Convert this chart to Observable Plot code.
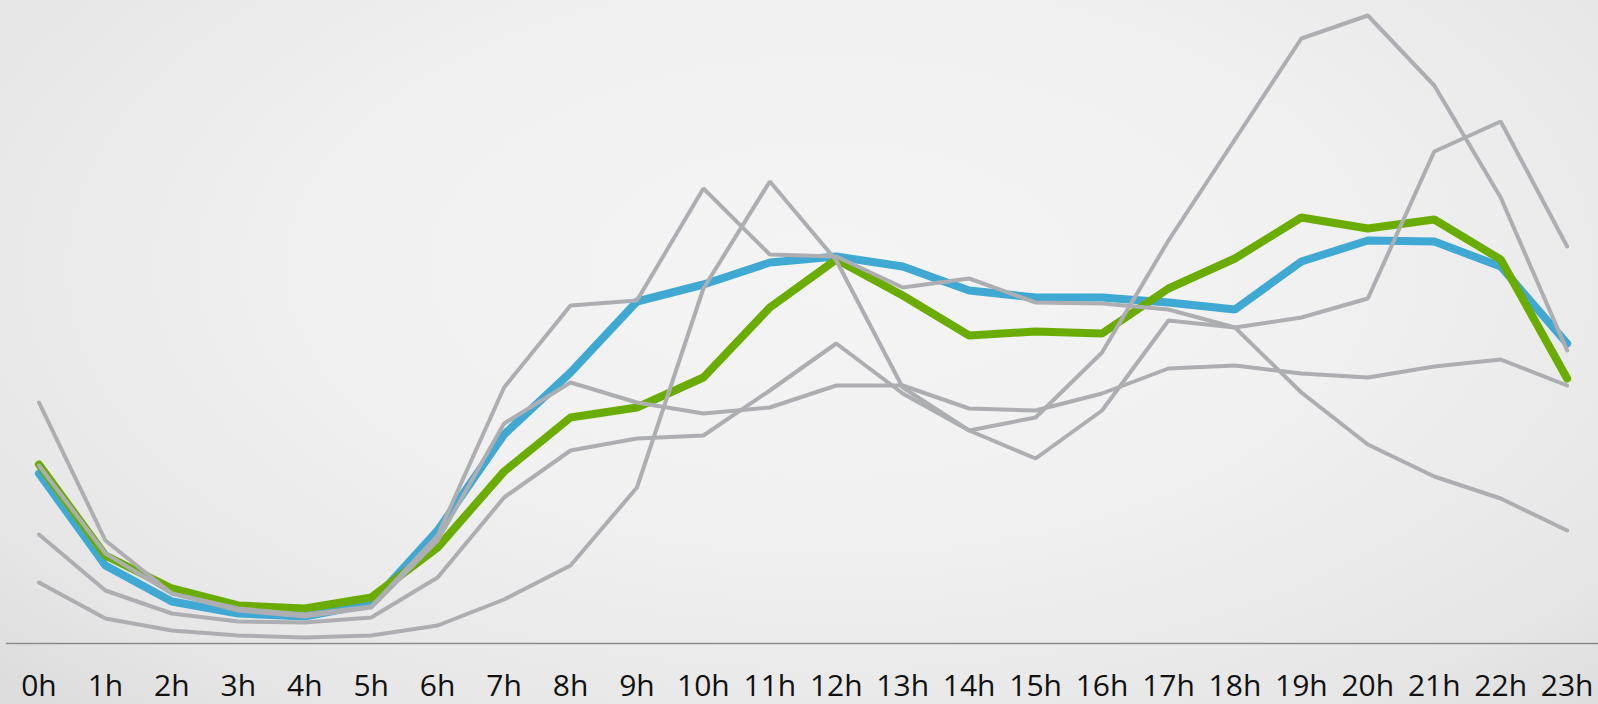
<!DOCTYPE html>
<html>
<head>
<meta charset="utf-8">
<script src="https://cdn.jsdelivr.net/npm/d3@7"></script>
<script src="https://cdn.jsdelivr.net/npm/@observablehq/plot@0.6"></script>
<style>
  html, body { margin: 0; padding: 0; }
  #chart {
    width: 1598px; height: 704px; overflow: hidden;
    background: radial-gradient(ellipse 75% 90% at 52% 38%, #f4f4f4 0%, #f1f1f1 40%, #e6e6e6 80%, #dadada 100%);
  }
  #chart svg { display: block; }
</style>
</head>
<body>
<div id="chart"></div>
<script>
// x categories (hours) and their tick labels
const hours = [0,1,2,3,4,5,6,7,8,9,10,11,12,13,14,15,16,17,18,19,20,21,22,23];
const hourLabels = ["0h","1h","2h","3h","4h","5h","6h","7h","8h","9h","10h","11h","12h","13h","14h","15h","16h","17h","18h","19h","20h","21h","22h","23h"];

// highlighted series
const blueValues  = [170,78,42,30,27,40,113,209,271,342,359,381,387,377,353,346,346,341,334,382,403,402,377,300];
const greenValues = [179,88,55,38,35,46,96,172,226,236,266,336,384,348,308,312,310,355,385,426,415,424,384,265];

// background (gray) series
const grayB = [241,103,50,35,29,37,108,256,338,343,455,389,387,356,365,341,340,334,316,251,199,167,145,113];
const grayD = [178,90,50,33,27,36,103,220,261,241,230,236,258,258,235,233,250,275,278,270,266,277,284,258];
const grayE = [109,53,30,22,21,26,66,146,193,205,208,253,300,250,213,226,291,403,504,605,628,558,446,293];
const grayC = [61,25,13,8,6,8,18,44,78,156,355,462,383,256,213,185,233,323,316,326,345,492,522,397];

const grayValues = [grayB, grayD, grayE, grayC];

const toRows = (vals, name) => vals.map((v, i) => ({hour: hours[i], value: v, series: name}));
const grayRows = grayValues.flatMap((vals, k) => toRows(vals, "g" + k));
const blueRows = toRows(blueValues, "blue");
const greenRows = toRows(greenValues, "green");

const chart = Plot.plot({
  width: 1598,
  height: 704,
  marginLeft: 6,
  marginRight: 0,
  marginTop: 0,
  marginBottom: 61,
  style: {fontFamily: "'Open Sans', sans-serif", background: "transparent"},
  x: {domain: [-0.489, 23.472], axis: null},
  y: {domain: [0, 643], axis: null},
  marks: [
    Plot.ruleY([0], {stroke: "#8c8c8c", strokeWidth: 1.6}),
    Plot.axisX(hours, {
      tickSize: 0, tickPadding: 31, fontSize: 30, fill: "#111",
      tickFormat: d => hourLabels[d], label: null
    }),
    Plot.lineY(blueRows, {x: "hour", y: "value", stroke: "#3fa8d3", strokeWidth: 8,
      strokeLinejoin: "miter", strokeLinecap: "round"}),
    Plot.lineY(greenRows, {x: "hour", y: "value", stroke: "#6aad00", strokeWidth: 8,
      strokeLinejoin: "miter", strokeLinecap: "round"}),
    Plot.lineY(grayRows, {x: "hour", y: "value", z: "series", stroke: "#adaeb2", strokeWidth: 4,
      strokeLinejoin: "miter", strokeLinecap: "round"})
  ]
});
document.getElementById("chart").appendChild(chart);
</script>
</body>
</html>
